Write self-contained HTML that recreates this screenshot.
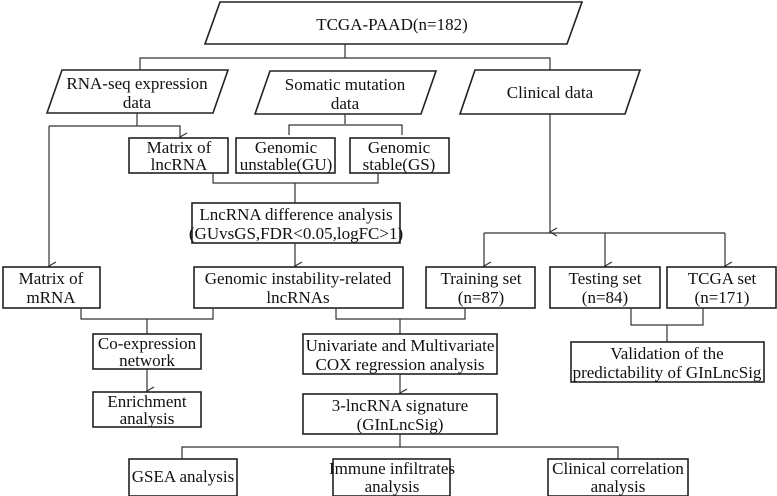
<!DOCTYPE html>
<html><head><meta charset="utf-8"><style>
html,body{margin:0;padding:0;background:#fff;}
svg{display:block;}
text{font-family:"Liberation Serif",serif;font-size:17px;fill:#111;text-anchor:middle;}
.b{fill:#fff;stroke:#222;stroke-width:1.6;}
.l{fill:none;stroke:#333;stroke-width:1.2;}
</style></head><body>
<svg width="777" height="496" viewBox="0 0 777 496">
<defs><marker id="a" markerWidth="10" markerHeight="10" refX="5" refY="8" orient="auto" markerUnits="userSpaceOnUse"><path d="M1,1 L5,8 L9,1" fill="none" stroke="#333" stroke-width="1.2"/></marker></defs>
<!-- top -->
<polygon class="b" points="220,2 582,2 567,44 205,44"/>
<text x="392" y="30">TCGA-PAAD(n=182)</text>
<path class="l" d="M345,44 V58 M140,70 V58 H550 V70"/>
<polygon class="b" points="62,70 228,70 213,113 47,113"/>
<text x="137" y="89">RNA-seq expression</text><text x="137" y="108">data</text>
<polygon class="b" points="270,71 436,71 421,114 255,114"/>
<text x="345" y="90">Somatic mutation</text><text x="345" y="109">data</text>
<polygon class="b" points="475,70 640,70 625,114 460,114"/>
<text x="550" y="98">Clinical data</text>
<!-- RNA-seq lines -->
<path class="l" d="M137,113 V126 M49,126 H180 V137" marker-end="url(#a)"/>
<path class="l" d="M49,126 V266" marker-end="url(#a)"/>
<path class="l" d="M345,114 V124 M289,135 V125 H402 V135"/>
<rect class="b" x="129" y="138" width="99" height="35"/>
<text x="179" y="153">Matrix of</text><text x="179" y="170">lncRNA</text>
<rect class="b" x="236" y="138" width="99" height="35"/>
<text x="286" y="153">Genomic</text><text x="286" y="170">unstable(GU)</text>
<rect class="b" x="350" y="138" width="99" height="35"/>
<text x="399" y="153">Genomic</text><text x="399" y="170">stable(GS)</text>
<path class="l" d="M213,173 V183 H378 V173 M295,183 V203"/>
<rect class="b" x="192" y="203" width="208" height="40"/>
<text x="296" y="220">LncRNA difference analysis</text><text x="296" y="239">(GUvsGS,FDR&lt;0.05,logFC&gt;1)</text>
<path class="l" d="M295,243 V266" marker-end="url(#a)"/>
<!-- clinical -->
<path class="l" d="M550,114 V232" marker-end="url(#a)"/>
<path class="l" d="M484,233 H725"/>
<path class="l" d="M484,233 V266" marker-end="url(#a)"/>
<path class="l" d="M605,233 V266" marker-end="url(#a)"/>
<path class="l" d="M725,233 V266" marker-end="url(#a)"/>
<!-- row -->
<rect class="b" x="3" y="267" width="97" height="41"/>
<text x="51" y="284">Matrix of</text><text x="51" y="303">mRNA</text>
<rect class="b" x="194" y="267" width="209" height="41"/>
<text x="298" y="284">Genomic instability-related</text><text x="298" y="303">lncRNAs</text>
<rect class="b" x="426" y="267" width="109" height="41"/>
<text x="481" y="284">Training set</text><text x="481" y="303">(n=87)</text>
<rect class="b" x="550" y="267" width="110" height="41"/>
<text x="605" y="284">Testing set</text><text x="605" y="303">(n=84)</text>
<rect class="b" x="667" y="267" width="109" height="41"/>
<text x="722" y="284">TCGA set</text><text x="722" y="303">(n=171)</text>
<!-- brackets -->
<path class="l" d="M81,308 V319 H213 V308 M147,319 V334"/>
<path class="l" d="M336,308 V319 H465 V308 M400,319 V334"/>
<path class="l" d="M631,308 V325 H703 V308 M667,325 V342"/>
<rect class="b" x="93" y="334" width="108" height="35"/>
<text x="147" y="349">Co-expression</text><text x="147" y="366">network</text>
<path class="l" d="M147,369 V391" marker-end="url(#a)"/>
<rect class="b" x="93" y="392" width="108" height="35"/>
<text x="147" y="407">Enrichment</text><text x="147" y="424">analysis</text>
<rect class="b" x="303" y="334" width="194" height="40"/>
<text x="400" y="351">Univariate and Multivariate</text><text x="400" y="370">COX regression analysis</text>
<path class="l" d="M400,374 V393" marker-end="url(#a)"/>
<rect class="b" x="303" y="394" width="194" height="40"/>
<text x="400" y="411">3-lncRNA signature</text><text x="400" y="430">(GInLncSig)</text>
<rect class="b" x="571" y="342" width="193" height="40"/>
<text x="667" y="359">Validation of the</text><text x="667" y="378">predictability of GInLncSig</text>
<path class="l" d="M400,434 V447 M182,459 V447 H618 V459"/>
<rect class="b" x="129" y="459" width="108" height="37"/>
<text x="183" y="482">GSEA analysis</text>
<rect class="b" x="333" y="459" width="117" height="37"/>
<text x="392" y="474">Immune infiltrates</text><text x="392" y="492">analysis</text>
<rect class="b" x="548" y="459" width="140" height="37"/>
<text x="618" y="474">Clinical correlation</text><text x="618" y="492">analysis</text>
</svg>
</body></html>
